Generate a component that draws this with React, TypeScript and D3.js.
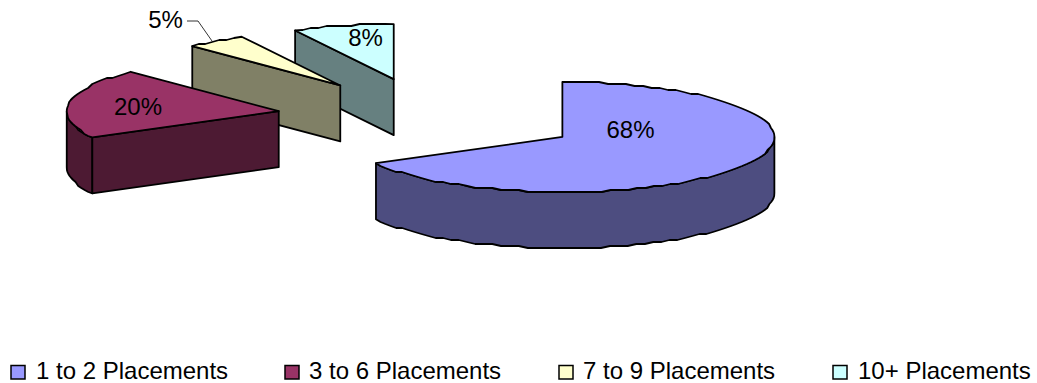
import React from "react";
import * as d3 from "d3";

const categories = ["1 to 2 Placements", "3 to 6 Placements", "7 to 9 Placements", "10+ Placements"];
const values = [67.1, 20.6, 4.6, 7.7];
const labels = ["68%", "20%", "5%", "8%"];
const topColors = ["#9999FF", "#993366", "#FFFFCC", "#CCFFFF"];
const sideColors = ["#4D4D80", "#4D1A33", "#808066", "#668080"];

const W = 1037, H = 383;
const FONT = "'Liberation Sans', Arial, sans-serif";
const FS = 24;
const CX = 430.5, CY = 117;    // pie centre before explosion
const EX = 153.5, EY = 39;     // explosion distance, projected
const RX = 212, RY = 55;       // projected radii
const DEPTH = 56;
const STEP = Math.PI / 72;
const GRID_Y = 2;

const labelPos = [[630.5, 138], [138, 115], [165.5, 28], [365.5, 46]];
const legendSwatchX = [11, 285, 559, 833];
const legendTextX = [36, 309, 583, 858];

const pie = d3.pie<number>().sort(null).startAngle(0).endAngle(2 * Math.PI);
const arcs = pie(values);

type P = [number, number];
const lineGen = d3.line<P>();

function arcPts(cx: number, cy: number, a0: number, a1: number, dy = 0): P[] {
  const n = Math.max(2, Math.ceil(Math.abs(a1 - a0) / STEP));
  const pts: P[] = d3.range(n + 1).map((i) => {
    const a = a0 + ((a1 - a0) * i) / n;
    const x = cx + RX * Math.sin(a);
    const y = cy - RY * Math.cos(a);
    const jag = i === 0 || i === n ? y : Math.round(y / GRID_Y) * GRID_Y;
    return [x, jag + dy] as P;
  });
  return pts;
}

export default function App() {
  const order = [3, 2, 1, 0];
  return (
    <svg width={W} height={H} viewBox={`0 0 ${W} ${H}`}
      style={{ position: "absolute", left: 0, top: 0, background: "#fff" }}
      fontFamily={FONT} fontSize={FS}>
      {order.map((i) => {
        const d = arcs[i];
        const mid = (d.startAngle + d.endAngle) / 2;
        const cx = CX + EX * Math.sin(mid);
        const cy = CY - EY * Math.cos(mid);
        const a0 = d.startAngle, a1 = d.endAngle;
        const wa0 = Math.max(a0, Math.PI / 2), wa1 = Math.min(a1, (3 * Math.PI) / 2);
        const top: P[] = [[cx, cy], ...arcPts(cx, cy, a0, a1)];
        const wallTop = wa1 > wa0 ? arcPts(cx, cy, wa0, wa1) : [];
        const wallBot = wa1 > wa0 ? arcPts(cx, cy, wa1, wa0, DEPTH) : [];
        const start: P = [cx + RX * Math.sin(a0), cy - RY * Math.cos(a0)];
        const showStartFace = a0 > Math.PI;
        const sf: P[] = [[cx, cy], start, [start[0], start[1] + DEPTH], [cx, cy + DEPTH]];
        return (
          <g key={i} stroke="#000" strokeWidth={1.8} strokeLinejoin="round">
            {wallTop.length > 0 && (
              <path d={lineGen([...wallTop, ...wallBot])! + "Z"} fill={sideColors[i]} />
            )}
            {showStartFace && <path d={lineGen(sf)! + "Z"} fill={sideColors[i]} />}
            <path d={lineGen(top)! + "Z"} fill={topColors[i]} />
          </g>
        );
      })}
      <path d={lineGen([[187, 21], [198, 21], [212, 41]])!} fill="none" stroke="#000" strokeWidth={0.8} />
      {labels.map((t, i) => (
        <text key={t} x={labelPos[i][0]} y={labelPos[i][1]} textAnchor="middle" fill="#000">{t}</text>
      ))}
      {categories.map((c, i) => (
        <g key={c}>
          <rect x={legendSwatchX[i]} y={365.5} width={14} height={13.5} fill={topColors[i]} stroke="#000" strokeWidth={1.5} />
          <text x={legendTextX[i]} y={378.5} fill="#000">{c}</text>
        </g>
      ))}
    </svg>
  );
}
